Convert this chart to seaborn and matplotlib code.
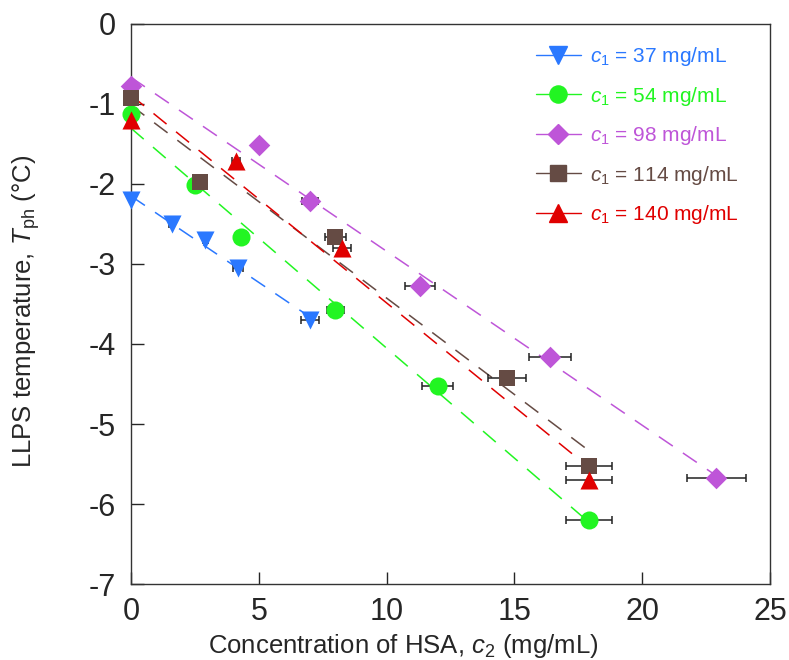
import matplotlib
matplotlib.use("Agg")
import matplotlib.pyplot as plt
from matplotlib.lines import Line2D
import seaborn as sns
import pandas as pd
import numpy as np

# HSA concentration c2 (mg/mL), LLPS temperature (C), x error (mg/mL)
c2_37 = [0.0, 1.6, 2.9, 4.2, 7.0]
T_37 = [-2.2, -2.5, -2.7, -3.05, -3.7]
err_37 = [0.0, 0.1, 0.1, 0.2, 0.35]

c2_54 = [0.0, 2.5, 4.3, 8.0, 12.0, 17.9]
T_54 = [-1.13, -2.02, -2.67, -3.57, -4.52, -6.2]
err_54 = [0.0, 0.1, 0.1, 0.35, 0.6, 0.9]

c2_98 = [0.0, 5.0, 7.0, 11.3, 16.4, 22.9]
T_98 = [-0.78, -1.52, -2.22, -3.27, -4.16, -5.67]
err_98 = [0.0, 0.1, 0.3, 0.58, 0.83, 1.15]

c2_114 = [0.0, 2.7, 8.0, 14.7, 17.9]
T_114 = [-0.93, -1.98, -2.67, -4.42, -5.52]
err_114 = [0.0, 0.1, 0.4, 0.74, 0.9]

c2_140 = [0.0, 4.1, 8.25, 17.9]
T_140 = [-1.2, -1.72, -2.8, -5.7]
err_140 = [0.0, 0.15, 0.35, 0.9]

c1_labels = ["37", "54", "98", "114", "140"]
colors = ["#2a78ff", "#22f522", "#be55d8", "#654b44", "#e00000"]
markers = ["v", "o", "D", "s", "^"]
msizes = [13, 13, 11, 11.5, 13]

series = [(c2_37, T_37, err_37), (c2_54, T_54, err_54), (c2_98, T_98, err_98),
          (c2_114, T_114, err_114), (c2_140, T_140, err_140)]

sns.set_style("ticks")
plt.rcParams['font.family'] = ['Liberation Sans', 'DejaVu Sans']
plt.rcParams['mathtext.fontset'] = 'custom'
plt.rcParams['mathtext.rm'] = 'Liberation Sans'
plt.rcParams['mathtext.it'] = 'Liberation Sans:italic'
plt.rcParams['axes.unicode_minus'] = False

fig, ax = plt.subplots(figsize=(7.89, 6.6), dpi=100)
fig.subplots_adjust(left=0.166, right=0.976, top=0.964, bottom=0.115)

handles = []
for (x, y, xe), lab, col, mk, ms in zip(series, c1_labels, colors, markers, msizes):
    df = pd.DataFrame({"c2": x, "T": y, "xerr": xe})
    # linear fit, dashed
    sns.regplot(data=df, x="c2", y="T", ax=ax, scatter=False, ci=None, truncate=True,
                line_kws=dict(color=col, lw=1.1, linestyle=(0, (11, 8)), zorder=1))
    # error bars
    ax.errorbar(df["c2"], df["T"], xerr=df["xerr"], fmt="none", ecolor="#222222",
                elinewidth=1.1, capsize=3, capthick=1.1, zorder=2)
    sns.scatterplot(data=df, x="c2", y="T", ax=ax, color=col, marker=mk, s=ms ** 2,
                    linewidth=0, zorder=3, clip_on=False)
    handles.append(Line2D([], [], color=col, marker=mk, markersize=ms * 0.95, lw=1.0,
                          label=rf"$c_1$ = {lab} mg/mL"))

ax.set_xlim(0, 25)
ax.set_ylim(-7, 0)
ax.set_xticks(np.arange(0, 26, 5))
ax.set_yticks(np.arange(-7, 1, 1))
ax.tick_params(direction="in", length=9, width=1, labelsize=22,
               top=False, right=False)
ax.tick_params(axis="x", pad=9)
ax.tick_params(axis="y", pad=11)
for s in ax.spines.values():
    s.set_visible(True)
    s.set_color("#333333")
    s.set_linewidth(1.0)

ax.set_xlabel(r"Concentration of HSA, $c_2$ (mg/mL)", fontsize=18.5)
ax.xaxis.set_label_coords(0.426, -0.085)
ax.set_ylabel(r"LLPS temperature, $T_{\rm ph}$ (°C)", fontsize=18.5)
ax.yaxis.set_label_coords(-0.14, 0.487)

leg = ax.legend(handles=handles, loc="upper left", bbox_to_anchor=(0.655, 0.96),
                bbox_transform=fig.transFigure, frameon=False, fontsize=15,
                handlelength=2.2, handletextpad=0.4, labelspacing=0.79)
for t, col in zip(leg.get_texts(), colors):
    t.set_color(col)

fig.savefig("out.png", dpi=100)
